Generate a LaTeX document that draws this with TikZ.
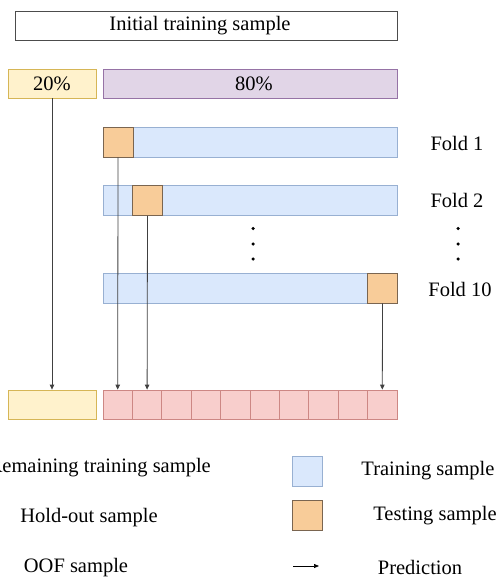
\documentclass[tikz,border=0pt]{standalone}
\usepackage{fontspec}
\setmainfont{Liberation Serif}
\usetikzlibrary{arrows.meta}
\definecolor{yfill}{HTML}{FFF2CC}\definecolor{ydraw}{HTML}{D6B656}
\definecolor{pfill}{HTML}{E1D5E7}\definecolor{pdraw}{HTML}{9673A6}
\definecolor{bfill}{HTML}{DAE8FC}\definecolor{bdraw}{HTML}{6C8EBF}
\definecolor{ofill}{HTML}{F8CECC}\definecolor{odraw}{HTML}{B85450}
\definecolor{tfill}{HTML}{F8CC99}\definecolor{tdraw}{HTML}{7A6550}
\tikzset{
  box/.style={rectangle, inner sep=0pt, line width=0.8pt},
  ybox/.style={box, fill=yfill, draw=ydraw},
  pbox/.style={box, fill=pfill, draw=pdraw},
  bbox/.style={box, fill=bfill, draw=bdraw!70},
  obox/.style={box, fill=ofill, draw=odraw!70},
  tbox/.style={box, fill=tfill, draw=tdraw, minimum width=30pt, minimum height=30pt},
  lbl/.style={font=\fontsize{20.5pt}{22pt}\selectfont, inner sep=0pt},
  pred/.style={draw=black!75, line width=0.8pt, -{Triangle[length=5pt,width=4.5pt]}},
  dot/.style={circle, fill=black, inner sep=0pt, minimum size=3.5pt},
}
\begin{document}
\begin{tikzpicture}[x=1pt,y=-1pt]
\useasboundingbox (0,0) rectangle (498,580);
% top
\node[box, draw=black!70, fill=white, minimum width=382pt, minimum height=29pt] (init) at (206,25.5) {};
\node[lbl] (initt) at (200,25.5) {Initial training sample};
\node[ybox, minimum width=88pt, minimum height=29pt] (p20) at (52,83.5) {};
\node[lbl] at (52,83.5) {20\%};
\node[pbox, minimum width=294pt, minimum height=29pt] (p80) at (250,83.5) {};
\node[lbl] at (254,83.5) {80\%};
% folds
\node[bbox, minimum width=294pt, minimum height=30pt] (f1) at (250,142) {};
\node[tbox] (t1) at (118,142) {};
\node[bbox, minimum width=294pt, minimum height=30pt] (f2) at (250,200.5) {};
\node[tbox] (t2) at (147.5,200.5) {};
\node[bbox, minimum width=294pt, minimum height=30pt] (f10) at (250,288) {};
\node[tbox] (t10) at (382.5,288) {};
\node[lbl] (l1) at (457,143) {Fold 1};
\node[lbl] (l2) at (457,200) {Fold 2};
\node[lbl] (l10) at (460,289) {Fold 10};
\node[dot] (d1) at (253,228.5) {};
\node[dot] (d2) at (253,244) {};
\node[dot] (d3) at (253,259) {};
\node[dot] (e1) at (458,228.5) {};
\node[dot] (e2) at (458,244) {};
\node[dot] (e3) at (458,259) {};
% bottom
\node[ybox, minimum width=88pt, minimum height=29pt] (hold) at (52,404.5) {};
\foreach \i in {0,...,9} {
  \node[obox, minimum width=29.4pt, minimum height=29pt] (c\i) at ({103+29.4*\i+14.7},404.5) {};
}
\draw[pred] (p20.south) -- (hold.north);
\draw[pred] (t1.south) -- (c0.north);
\draw[pred] (t2.south) -- (c1.north);
\draw[pred] (t10.south) -- (c9.north);
% legend
\node[lbl, anchor=east] (lg1) at (211,468) {Remaining training sample};
\node[lbl] (lg2) at (89,518) {Hold-out sample};
\node[lbl] (lg3) at (76,568) {OOF sample};
\node[bbox, minimum width=30pt, minimum height=30pt] (sq1) at (307,471) {};
\node[tbox] (sq2) at (307,515) {};
\coordinate (a1) at (293,566);
\coordinate (a2) at (319,566);
\draw[line width=0.7pt, -{Triangle[length=5pt,width=4pt]}] (a1) -- (a2);
\node[lbl] (lg4) at (428,471) {Training sample};
\node[lbl] (lg5) at (435,516) {Testing sample};
\node[lbl] (lg6) at (420,567) {Prediction};
\end{tikzpicture}
\end{document}
